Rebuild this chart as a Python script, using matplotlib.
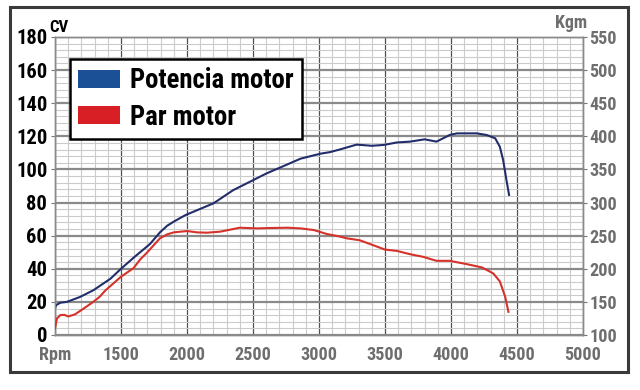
import matplotlib
matplotlib.use("Agg")
import matplotlib.pyplot as plt
from matplotlib.patches import Patch, Rectangle
from matplotlib.ticker import MultipleLocator
from matplotlib.font_manager import FontProperties, fontManager
from matplotlib.textpath import TextPath

# ---- data ----
rpm_power = [1000, 1008, 1040, 1090, 1190, 1290, 1420, 1500, 1600, 1720, 1795, 1850,
             1900, 1990, 2200, 2350, 2400, 2600, 2860, 3010, 3085, 3155, 3285, 3400,
             3490, 3590, 3690, 3800, 3890, 3990, 4045, 4195, 4270, 4335, 4370, 4395,
             4420, 4440]
power_cv = [16, 18, 19.5, 20, 23, 27, 34, 40, 47, 55, 62, 66,
            68.5, 72.5, 79.5, 87.5, 89.5, 97.5, 106.5, 109.5, 110.5, 112, 115, 114.3,
            114.8, 116.3, 116.8, 118.2, 116.8, 120.8, 121.8, 121.8, 120.8, 118.8, 113.7, 105.7,
            93.6, 84.6]

rpm_torque = [1000, 1015, 1040, 1070, 1100, 1150, 1210, 1290, 1340, 1380, 1500, 1595,
              1645, 1695, 1795, 1850, 1900, 2000, 2075, 2150, 2250, 2400, 2530, 2620,
              2760, 2860, 2960, 3060, 3150, 3210, 3310, 3500, 3590, 3690, 3790, 3890,
              3990, 4120, 4235, 4320, 4370, 4410, 4435]
torque_kgm = [110, 125, 130, 130.5, 128, 131, 139, 150, 158, 167, 188, 201,
              214, 224, 246, 252, 255, 257, 255, 254.5, 256, 262, 261, 261.5,
              262, 261, 258.5, 252.5, 249, 246, 243, 229, 227, 222, 218, 212,
              212, 207, 202, 193, 181, 158, 135]

x_ticks = [1000, 1500, 2000, 2500, 3000, 3500, 4000, 4500, 5000]
x_labels = ['Rpm', '1500', '2000', '2500', '3000', '3500', '4000', '4500', '5000']
left_ticks = list(range(0, 181, 20))
right_ticks = list(range(100, 551, 50))
series_names = ['Potencia motor', 'Par motor']

# ---- font choice: prefer a condensed family ----
DPI = 100
available = {f.name for f in fontManager.ttflist}
prefs = ['Liberation Sans Narrow', 'Roboto Condensed', 'Open Sans Condensed',
         'Noto Sans Condensed', 'DejaVu Sans Condensed', 'Arial Narrow',
         'Noto Sans Display Condensed']
font = next((p for p in prefs if p in available), None)
if font is None:
    cands = sorted(n for n in available if ('Condensed' in n or 'Narrow' in n))
    font = cands[0] if cands else 'Liberation Sans'
FAM = [font, 'DejaVu Sans']
plt.rcParams['font.family'] = FAM


def fit(text, w_px, h_px, htext=None):
    fp = FontProperties(family=FAM, weight='bold', size=10)
    ew = TextPath((0, 0), text, size=10, prop=fp).get_extents().width * DPI / 72
    eh = TextPath((0, 0), htext or text, size=10, prop=fp).get_extents().height * DPI / 72
    s_w = 10 * w_px / ew
    s_h = 10 * h_px / eh
    return min(s_h, s_w * 1.06)


s_left = fit('180', 31.6, 15)
s_bottom = fit('1500', 36.7, 13.3)
s_right = fit('550', 27.7, 13.3)
s_cv = fit('CV', 17.3, 12.7)
s_kgm = fit('Kgm', 35, 12.7, 'K')
s_leg = fit('Potencia motor', 156.7, 19, 'P')

# ---- style ----
blue_line = '#222d6c'
red_line = '#d5322a'
blue_patch = '#1b4f96'
red_patch = '#d81f26'
gray_txt = '#6e6e6e'

fig = plt.figure(figsize=(6.4, 3.9), dpi=DPI)
fig.patch.set_facecolor('white')

ax = fig.add_axes([55/640, 1-335/390, 528/640, 298/390])
ax2 = ax.twinx()

ax.set_xlim(1000, 5000)
ax.set_ylim(0, 180)
ax2.set_ylim(100, 550)

ax.xaxis.set_major_locator(MultipleLocator(500))
ax.xaxis.set_minor_locator(MultipleLocator(100))
ax.yaxis.set_major_locator(MultipleLocator(20))
ax.yaxis.set_minor_locator(MultipleLocator(4))

ax.grid(which='minor', axis='both', color='#cbcbcb', linewidth=0.8)
ax.grid(which='major', axis='x', color='#505050', linewidth=0.9)
ax.grid(which='major', axis='y', color='#8a8a8a', linewidth=1.6)
ax.set_axisbelow(True)

ax.set_xticks(x_ticks)
ax.set_xticklabels(x_labels)
ax.set_yticks(left_ticks)
ax2.set_yticks(right_ticks)

ax.tick_params(axis='x', which='both', length=0, pad=8, labelsize=s_bottom,
               labelcolor=gray_txt)
ax.tick_params(axis='y', which='major', length=3, color='#777777', pad=2.5,
               labelsize=s_left, labelcolor='black')
ax.tick_params(axis='y', which='minor', length=0)
ax2.tick_params(axis='y', which='major', length=3, color='#777777', pad=1.5,
                labelsize=s_right, labelcolor=gray_txt)
for lab in ax.get_xticklabels() + ax.get_yticklabels() + ax2.get_yticklabels():
    lab.set_fontweight('bold')

for a in (ax, ax2):
    for s in a.spines.values():
        s.set_color('#8a8a8a')
        s.set_linewidth(1.0)

ax.plot(rpm_power, power_cv, color=blue_line, linewidth=1.5, zorder=3)
ax2.plot(rpm_torque, torque_kgm, color=red_line, linewidth=1.5, zorder=3)

fig.text(49/640, 1-27/390, 'CV', fontsize=s_cv, fontweight='bold', color='black',
         ha='left', va='center')
fig.text(587/640, 1-23/390, 'Kgm', fontsize=s_kgm, fontweight='bold', color=gray_txt,
         ha='right', va='center')

leg_px = s_leg * DPI / 72
handles = [Patch(facecolor=blue_patch, edgecolor='none'),
           Patch(facecolor=red_patch, edgecolor='none')]
leg = ax2.legend(handles, series_names, loc='upper left',
                 bbox_to_anchor=(70/640, 1-59/390), bbox_transform=fig.transFigure,
                 borderaxespad=0, fancybox=False, framealpha=1, edgecolor='black',
                 prop={'weight': 'bold', 'size': s_leg},
                 handlelength=42/leg_px, handleheight=18/leg_px,
                 handletextpad=10/leg_px, labelspacing=0.36, borderpad=0.3)
leg.get_frame().set_linewidth(1.8)
leg.set_zorder(10)

# outer frame
fig.patches.append(Rectangle((10/640, 1-372/390), 618/640, 365/390,
                             transform=fig.transFigure, fill=False,
                             edgecolor='#3a3a3a', linewidth=2.2))

fig.savefig('out.png', dpi=DPI)
